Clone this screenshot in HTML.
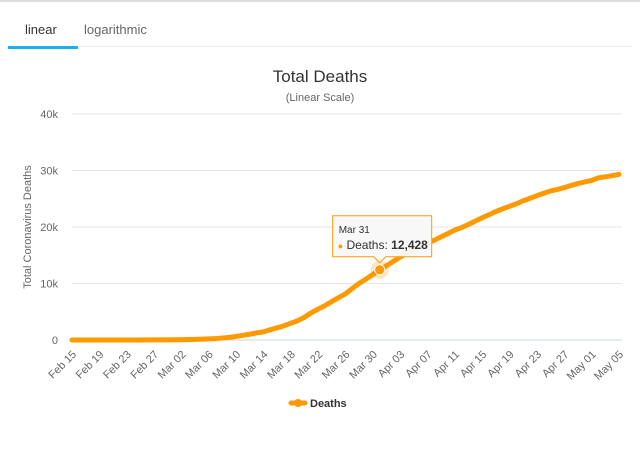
<!DOCTYPE html>
<html><head><meta charset="utf-8"><style>
body{margin:0;width:640px;height:449px;background:#fff;font-family:"Liberation Sans",sans-serif;overflow:hidden;position:relative}
.top{position:absolute;left:0;top:0;width:640px;height:2px;background:#ddd}
.tab{position:absolute;top:22px;font-size:13px}
.sep{position:absolute;left:8px;top:46px;width:624px;height:1px;background:#eee}
.ul{position:absolute;left:8px;top:46px;width:70px;height:3px;background:#1ab0f0}
</style></head><body>
<div class="top"></div>
<div class="tab" style="left:25px;color:#333">linear</div>
<div class="tab" style="left:84px;color:#666">logarithmic</div>
<div class="sep"></div>
<div class="ul"></div>
<svg id="c" width="640" height="449" style="position:absolute;left:0;top:0"></svg>
<script>
const yTicks=[0,10000,20000,30000,40000];
const yTickLabels=["0","10k","20k","30k","40k"];
const deaths=[0,0,0,0,0,0,1,2,3,7,10,12,17,21,29,34,52,79,107,148,197,233,366,463,631,827,1016,1266,1441,1809,2158,2503,2978,3405,4032,4825,5476,6077,6820,7503,8165,9134,10023,10779,11591,12428,13155,13915,14681,15362,15887,16523,17127,17669,18279,18849,19468,19899,20465,21067,21645,22170,22745,23227,23660,24114,24648,25085,25549,25969,26384,26644,26977,27359,27682,27967,28236,28710,28884,29079,29315];
const tipIndex=45;
const NS="http://www.w3.org/2000/svg";
const svg=document.getElementById('c');
const start=new Date(2020,1,15);
const mon=["Jan","Feb","Mar","Apr","May"];
const dates=deaths.map((d,i)=>{const t=new Date(start);t.setDate(t.getDate()+i);return mon[t.getMonth()]+" "+String(t.getDate()).padStart(2,'0');});
const x0=72,x1=619,y0=340,y1=114;
const xs=i=>x0+(x1-x0)*i/(deaths.length-1);
const ys=v=>y0-(y0-y1)*v/40000;
function el(tag,attrs,txt){const e=document.createElementNS(NS,tag);for(const k in attrs)e.setAttribute(k,attrs[k]);if(txt!==undefined)e.textContent=txt;svg.appendChild(e);return e;}
let e;
e=el('text',{x:320,y:82,'text-anchor':'middle','font-size':17,fill:'#333'},'Total Deaths');


e=el('text',{x:320,y:101,'text-anchor':'middle','font-size':11,fill:'#666'},'(Linear Scale)');


yTicks.forEach((v,i)=>{
 e=el('line',{x1:x0,x2:x1+3,y1:ys(v),y2:ys(v),stroke:i==0?'#ccd6eb':'#e6e6e6'});
 
 
 e=el('text',{x:58,y:ys(v)+4,'text-anchor':'end','font-size':11,fill:'#666'},yTickLabels[i]);
 
 
});
e=el('text',{x:0,y:0,transform:'translate(31,227) rotate(-90)','text-anchor':'middle','font-size':11,fill:'#666'},'Total Coronavirus Deaths');


dates.forEach((d,i)=>{if(i%4)return;
 const x=xs(i);
 e=el('text',{x:0,y:0,transform:`translate(${x+5},${y0+15}) rotate(-45)`,'text-anchor':'end','font-size':11,fill:'#666'},d);
 
 
});
e=el('polyline',{points:deaths.map((v,i)=>xs(i)+','+ys(v)).join(' '),fill:'none',stroke:'#ff9900','stroke-width':5,'stroke-linejoin':'round','stroke-linecap':'round'});


const tx=xs(tipIndex),ty=ys(deaths[tipIndex]);
e=el('circle',{cx:tx,cy:ty,r:9,fill:'#ff9900','fill-opacity':0.25});


e=el('circle',{cx:tx,cy:ty,r:5,fill:'#ff9900',stroke:'#fff','stroke-width':1});


const bx=tx-47,by=ty-54;
e=el('path',{d:`M${bx},${by} h${99} v${41} h${-46} l-6,6 l-6,-6 h${-41} z`,fill:'#f8f8f8','fill-opacity':0.95,stroke:'#ff9900','stroke-width':1});


e=el('text',{x:bx+6,y:by+17,'font-size':10,fill:'#333'},dates[tipIndex]);


e=el('text',{x:bx+5,y:by+33,'font-size':12,fill:'#333'});
e.innerHTML='<tspan fill="#ff9900" font-size="9">●</tspan> Deaths: <tspan font-weight="bold">'+deaths[tipIndex].toLocaleString('en-US')+'</tspan>';


e=el('line',{x1:291,x2:305,y1:403,y2:403,stroke:'#ff9900','stroke-width':5,'stroke-linecap':'round'});


e=el('circle',{cx:298,cy:403,r:4,fill:'#ff9900'});


e=el('text',{x:310,y:407,'font-size':11,'font-weight':'bold',fill:'#333'},'Deaths');


</script>
</body></html>
